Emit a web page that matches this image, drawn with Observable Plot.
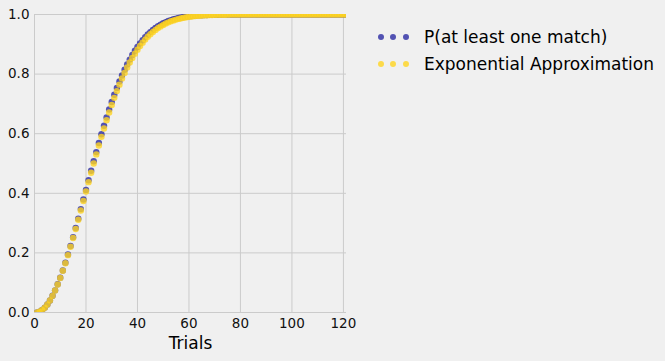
<!DOCTYPE html>
<html>
<head>
<meta charset="utf-8">
<script src="https://cdn.jsdelivr.net/npm/d3@7"></script>
<script src="https://cdn.jsdelivr.net/npm/@observablehq/plot@0.6"></script>
<style>
  html, body { margin: 0; padding: 0; background: #f0f0f0; }
  #wrap { position: relative; width: 665px; height: 361px; font-family: "DejaVu Sans", sans-serif; }
  #legend { position: absolute; left: 378px; top: 23px; font-size: 17px; color: #000; }
  .row { display: flex; align-items: center; height: 27px; }
  .dots { width: 37px; position: relative; height: 10px; margin-right: 9px; }
  .dot { position: absolute; top: 2px; width: 6px; height: 6px; border-radius: 50%; }
</style>
</head>
<body>
<div id="wrap"></div>
<script>
const seriesNames = ["P(at least one match)", "Exponential Approximation"];
const seriesColors = ["#2a2aa2", "#ffd520"];
const xTicks = [0, 20, 40, 60, 80, 100, 120];
const yTicks = [0, 0.2, 0.4, 0.6, 0.8, 1.0];
const trials = d3.range(1, 122);
const exact = [
  0, 0.0027, 0.0082, 0.0164, 0.0271, 0.0405, 0.0562, 0.0743, 0.0946, 0.1169,
  0.1411, 0.1670, 0.1944, 0.2231, 0.2529, 0.2836, 0.3150, 0.3469, 0.3791, 0.4114,
  0.4437, 0.4757, 0.5073, 0.5383, 0.5687, 0.5982, 0.6269, 0.6545, 0.6810, 0.7063,
  0.7305, 0.7533, 0.7750, 0.7953, 0.8144, 0.8322, 0.8487, 0.8641, 0.8782, 0.8912,
  0.9032, 0.9140, 0.9239, 0.9329, 0.9410, 0.9483, 0.9548, 0.9606, 0.9658, 0.9704,
  0.9744, 0.9780, 0.9811, 0.9839, 0.9863, 0.9883, 0.9901, 0.9917, 0.9930, 0.9941,
  0.9951, 0.9959, 0.9966, 0.9972, 0.9977, 0.9981, 0.9984, 0.9987, 0.9990, 0.9992,
  0.9993, 0.9995, 0.9996, 0.9997, 0.9997, 0.9998, 0.9998, 0.9999, 0.9999, 0.9999,
  1, 1, 1, 1, 1, 1, 1, 1, 1, 1,
  1, 1, 1, 1, 1, 1, 1, 1, 1, 1,
  1, 1, 1, 1, 1, 1, 1, 1, 1, 1,
  1, 1, 1, 1, 1, 1, 1, 1, 1, 1,
  1
];
const approx = [
  0, 0.0027, 0.0082, 0.0163, 0.0270, 0.0403, 0.0559, 0.0738, 0.0939, 0.1160,
  0.1399, 0.1654, 0.1924, 0.2206, 0.2500, 0.2802, 0.3111, 0.3424, 0.3740, 0.4058,
  0.4375, 0.4689, 0.5000, 0.5305, 0.5604, 0.5895, 0.6177, 0.6450, 0.6712, 0.6963,
  0.7203, 0.7430, 0.7646, 0.7850, 0.8041, 0.8220, 0.8388, 0.8543, 0.8687, 0.8820,
  0.8943, 0.9055, 0.9158, 0.9251, 0.9336, 0.9413, 0.9483, 0.9545, 0.9601, 0.9651,
  0.9696, 0.9736, 0.9771, 0.9802, 0.9829, 0.9853, 0.9874, 0.9892, 0.9908, 0.9922,
  0.9934, 0.9944, 0.9953, 0.9960, 0.9967, 0.9972, 0.9977, 0.9981, 0.9984, 0.9987,
  0.9989, 0.9991, 0.9993, 0.9994, 0.9995, 0.9996, 0.9997, 0.9997, 0.9998, 0.9998,
  0.9999, 0.9999, 0.9999, 0.9999, 0.9999, 0.9999, 0.9999, 1, 1, 1,
  1, 1, 1, 1, 1, 1, 1, 1, 1, 1,
  1, 1, 1, 1, 1, 1, 1, 1, 1, 1,
  1, 1, 1, 1, 1, 1, 1, 1, 1, 1,
  1
];

const exactData = trials.map((t, i) => ({t, p: exact[i]}));
const approxData = trials.map((t, i) => ({t, p: approx[i]}));

const chart = Plot.plot({
  width: 665,
  height: 361,
  marginLeft: 34,
  marginRight: 319,
  marginTop: 14,
  marginBottom: 49,
  style: {background: "#f0f0f0", fontFamily: "DejaVu Sans, sans-serif", fontSize: "13.5px", color: "#111"},
  x: {domain: [0, 121.2], ticks: xTicks, tickSize: 0, label: null},
  y: {domain: [0, 1], ticks: yTicks, tickSize: 0, tickFormat: d3.format(".1f"), label: null},
  marks: [
    Plot.gridX(xTicks, {stroke: "#cbcbcb", strokeOpacity: 1, strokeWidth: 1}),
    Plot.gridY(yTicks, {stroke: "#cbcbcb", strokeOpacity: 1, strokeWidth: 1}),
    Plot.axisX({ticks: xTicks, tickSize: 0, tickPadding: 6, fontSize: 13.5, fill: "#111"}),
    Plot.axisY({ticks: yTicks, tickSize: 0, tickPadding: 5, tickFormat: d3.format(".1f"), fontSize: 13.5, fill: "#111"}),
    Plot.text(["Trials"], {frameAnchor: "bottom", dy: 36, fontSize: 17, fill: "#000"}),
    Plot.dot(exactData, {x: "t", y: "p", r: 3.2, fill: seriesColors[0], fillOpacity: 0.8, stroke: "none", clip: true}),
    Plot.dot(approxData, {x: "t", y: "p", r: 3.2, fill: seriesColors[1], fillOpacity: 0.8, stroke: "none", clip: true})
  ]
});

const wrap = document.getElementById("wrap");
wrap.appendChild(chart);
const legend = document.createElement("div");
legend.id = "legend";
seriesNames.forEach((name, i) => {
  const row = document.createElement("div");
  row.className = "row";
  const dots = document.createElement("div");
  dots.className = "dots";
  [0, 12, 25].forEach(dx => {
    const d = document.createElement("span");
    d.className = "dot";
    d.style.left = dx + "px";
    d.style.background = seriesColors[i];
    d.style.opacity = 0.8;
    dots.appendChild(d);
  });
  const label = document.createElement("span");
  label.textContent = name;
  row.appendChild(dots);
  row.appendChild(label);
  legend.appendChild(row);
});
wrap.appendChild(legend);
</script>
</body>
</html>
